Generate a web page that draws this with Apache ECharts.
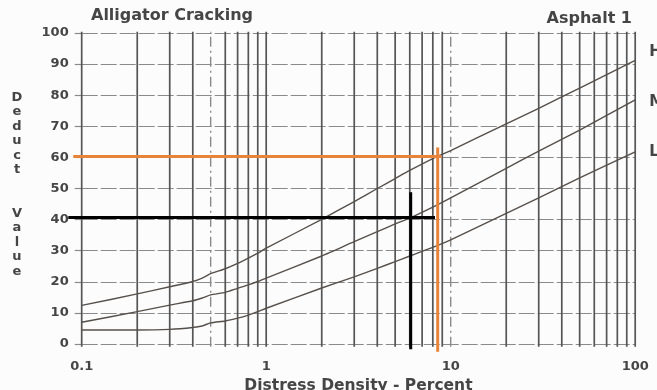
<!DOCTYPE html>
<html>
<head>
<meta charset="utf-8">
<script src="https://cdn.jsdelivr.net/npm/echarts@6/dist/echarts.min.js"></script>
<style>
  html, body { margin: 0; padding: 0; background: #fcfcfc; }
  #chart { width: 657px; height: 390px; }
</style>
</head>
<body>
<div id="chart"></div>
<script>
// Distress density (percent) sample points shared by the three severity curves
const density = [0.1, 0.2, 0.3, 0.4, 0.45, 0.5, 0.6, 0.7, 0.8, 0.9, 1, 2, 3, 4, 5, 6, 8, 10, 20, 30, 50, 100];
// Deduct value for high, medium and low severity
const deductHigh   = [12.4, 16.1, 18.4, 20.1, 21.2, 22.6, 24.2, 25.9, 27.6, 29.2, 30.8, 40.1, 45.8, 50.0, 53.2, 55.8, 59.6, 62.2, 70.8, 75.8, 82.3, 91.2];
const deductMedium = [7.0, 10.4, 12.5, 13.9, 14.8, 15.8, 16.6, 17.9, 19.0, 20.1, 21.2, 28.3, 32.9, 36.1, 38.6, 40.5, 44.0, 47.0, 56.5, 62.0, 68.8, 78.5];
const deductLow    = [4.5, 4.5, 4.7, 5.3, 5.8, 6.8, 7.4, 8.3, 9.3, 10.4, 11.5, 18.0, 21.6, 24.3, 26.5, 28.3, 31.1, 33.5, 42.0, 47.0, 53.4, 61.8];
const severityNames = ['H', 'M', 'L'];

// Log-paper vertical rulings
const gridDensities = [0.1, 0.2, 0.3, 0.4, 0.6, 0.7, 0.8, 0.9, 1, 2, 3, 4, 5, 6, 7, 8, 9, 20, 30, 40, 50, 60, 70, 80, 90, 100];
const dashedDensities = [0.5, 10];
const rulingSpan = [-0.9, 100.4];
const xTickLabels = ['0.1', '1', '10', '100'];

// Read-off guide lines
const orangeAcrossX = [0.09, 8.9], orangeAcrossY = [60.3, 60.3];
const orangeDownX = [8.5, 8.5],    orangeDownY = [63.2, -2.5];
const blackAcrossX = [0.0846, 8.22], blackAcrossY = [40.7, 40.7];
const blackDownX = [6.07, 6.07],    blackDownY = [48.8, -1.7];

const zip = (xs, ys) => xs.map((x, i) => [x, ys[i]]);
const textColor = '#454545';
const font = 'DejaVu Sans';

function curve(name, values, labelOffset) {
  return {
    name: name, type: 'line', data: zip(density, values),
    symbol: 'none', smooth: 0.2, z: 4, silent: true,
    lineStyle: { color: '#55504c', width: 1.4 },
    endLabel: {
      show: true, formatter: '{a}', offset: labelOffset,
      color: textColor, fontFamily: font, fontWeight: 'bold', fontSize: 15
    }
  };
}

// Straight segment between two data points, placed through the axes
function segmentSeries(xs, ys, color, width, dash, z) {
  return {
    type: 'custom', coordinateSystem: 'cartesian2d', clip: false, silent: true, z: z,
    data: [[xs[0], ys[0], xs[1], ys[1]]],
    encode: { x: [0, 2], y: [1, 3] },
    renderItem: (params, api) => {
      const a = api.coord([api.value(0), api.value(1)]);
      const b = api.coord([api.value(2), api.value(3)]);
      return { type: 'line', shape: { x1: a[0], y1: a[1], x2: b[0], y2: b[1] },
               style: { stroke: color, lineWidth: width, lineDash: dash } };
    }
  };
}

function rulingSeries(values, color, width, dash) {
  return {
    type: 'custom', coordinateSystem: 'cartesian2d', clip: false, silent: true, z: 1,
    data: values.map(d => [d, rulingSpan[0], rulingSpan[1]]),
    encode: { x: 0, y: [1, 2] },
    renderItem: (params, api) => {
      const a = api.coord([api.value(0), api.value(1)]);
      const b = api.coord([api.value(0), api.value(2)]);
      return { type: 'line', shape: { x1: a[0], y1: a[1], x2: b[0], y2: b[1] },
               style: { stroke: color, lineWidth: width, lineDash: dash } };
    }
  };
}

const chart = echarts.init(document.getElementById('chart'), null, { renderer: 'canvas' });
chart.setOption({
  animation: false,
  backgroundColor: '#fcfcfc',
  title: [
    { text: 'Alligator Cracking', left: 86, top: 3,
      textStyle: { color: textColor, fontFamily: font, fontWeight: 'bold', fontSize: 16 } },
    { text: 'Asphalt 1', right: 20, top: 6,
      textStyle: { color: textColor, fontFamily: font, fontWeight: 'bold', fontSize: 16 } },
    { text: 'D\ne\nd\nu\nc\nt\n\n\nV\na\nl\nu\ne', left: 12, top: 85, textAlign: 'center',
      textStyle: { color: textColor, fontFamily: font, fontWeight: 'bold', fontSize: 13, lineHeight: 14.5 } }
  ],
  grid: { left: 81.7, right: 21.8, top: 33, bottom: 46, containLabel: false, outerBoundsMode: 'none' },
  xAxis: {
    type: 'log', logBase: 10, min: 0.1, max: 100,
    name: 'Distress Density - Percent', nameLocation: 'middle', nameGap: 33,
    nameTextStyle: { color: textColor, fontFamily: font, fontWeight: 'bold', fontSize: 15.5 },
    axisLine: { show: false }, axisTick: { show: false }, splitLine: { show: false },
    axisLabel: {
      margin: 16, color: textColor, fontFamily: font, fontWeight: 'bold', fontSize: 13,
      formatter: v => xTickLabels.find(t => Math.abs(parseFloat(t) - v) < 1e-9 * Math.max(1, v)) || ''
    }
  },
  yAxis: {
    type: 'value', min: 0, max: 100, interval: 10,
    axisLine: { show: false },
    axisTick: { show: true, length: 7, lineStyle: { color: '#8a8a8a', width: 1.2 } },
    splitLine: { show: true, lineStyle: { color: '#8a8a8a', width: 1.2, type: [16, 3] } },
    axisLabel: { margin: 13, color: textColor, fontFamily: font, fontWeight: 'bold', fontSize: 13 }
  },
  series: [
    rulingSeries(gridDensities, '#555555', 1.7, null),
    rulingSeries(dashedDensities, '#8a8a8a', 1.4, [10, 4, 2, 4]),
    curve(severityNames[0], deductHigh, [6, -8]),
    curve(severityNames[1], deductMedium, [6, 2]),
    curve(severityNames[2], deductLow, [6, 0]),
    segmentSeries(orangeAcrossX, orangeAcrossY, '#e8843a', 3, null, 6),
    segmentSeries(orangeDownX, orangeDownY, '#e8843a', 3, null, 6),
    segmentSeries(blackAcrossX, blackAcrossY, '#000000', 3, null, 7),
    segmentSeries(blackDownX, blackDownY, '#000000', 3, null, 7)
  ]
});
</script>
</body>
</html>
